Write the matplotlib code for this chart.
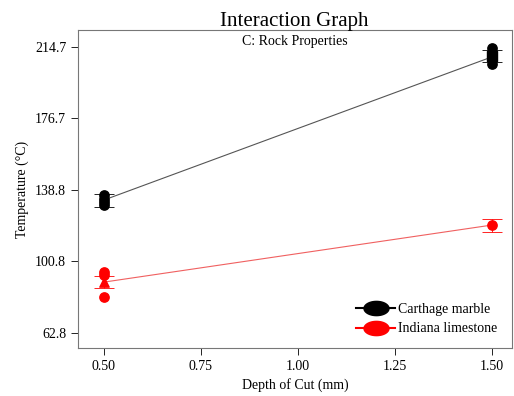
import numpy as np
import matplotlib.pyplot as plt

plt.rcParams["font.family"] = ["Liberation Serif", "DejaVu Serif"]

# Factor levels and predicted means with LSD bars
depth = [0.50, 1.50]
carthage_mean = [133.4, 209.4]
carthage_lo = [129.7, 206.7]
carthage_hi = [136.6, 213.1]
indiana_mean = [89.8, 120.1]
indiana_lo = [86.6, 116.4]
indiana_hi = [93.0, 123.3]

# Observed design points
carthage_obs_x = [0.50, 0.50, 0.50, 0.50, 1.50, 1.50]
carthage_obs_y = [136.0, 134.2, 132.6, 131.0, 214.2, 205.7]
carthage_multi_x = [1.50]
carthage_multi_y = [209.9]
indiana_obs_x = [0.50, 0.50, 0.50, 1.50]
indiana_obs_y = [95.1, 93.5, 81.8, 120.1]
indiana_multi_x = [0.50]
indiana_multi_y = [89.8]

yticks = [62.8, 100.8, 138.8, 176.7, 214.7]
xticks = [0.50, 0.75, 1.00, 1.25, 1.50]

fig = plt.figure(figsize=(5.14, 3.96), dpi=100)
ax = fig.add_axes([78 / 514, 48 / 396, 434 / 514, 318 / 396])

ax.plot(depth, carthage_mean, color="#555555", lw=0.8, zorder=2)
ax.plot(depth, indiana_mean, color="#f06060", lw=0.8, zorder=2)

for m, lo, hi, c in [(carthage_mean, carthage_lo, carthage_hi, "black"),
                     (indiana_mean, indiana_lo, indiana_hi, "red")]:
    err = [[a - b for a, b in zip(m, lo)], [b - a for a, b in zip(m, hi)]]
    ax.errorbar(depth, m, yerr=err, fmt="none", ecolor=c, elinewidth=0.6,
                capsize=7, capthick=0.6, zorder=3)

ax.scatter(carthage_obs_x, carthage_obs_y, s=45, color="black", zorder=4)
ax.scatter(carthage_multi_x, carthage_multi_y, s=45, marker="s", color="black", zorder=4)
ax.scatter(indiana_obs_x, indiana_obs_y, s=45, color="red", zorder=4)
ax.scatter(indiana_multi_x, indiana_multi_y, s=45, marker="^", color="red", zorder=4)

# legend handles: line with a wide oval marker
t = np.linspace(0, 2 * np.pi, 60)
oval = np.column_stack([np.cos(t), 0.57 * np.sin(t)])
ax.plot([], [], color="black", lw=1.5, marker=oval, ms=18,
        label="Carthage marble")
ax.plot([], [], color="red", lw=1.5, marker=oval, ms=18,
        label="Indiana limestone")
leg = ax.legend(loc="lower right", frameon=False, fontsize=10,
                handlelength=2.8, handletextpad=0.2, labelspacing=0.5,
                bbox_to_anchor=(0.995, 0.0))

ax.set_xlim(0.433, 1.552)
ax.set_ylim(54.8, 223.7)
ax.set_xticks(xticks)
ax.set_xticklabels(["0.50", "0.75", "1.00", "1.25", "1.50"])
ax.set_yticks(yticks)
ax.set_yticklabels(["62.8", "100.8", "138.8", "176.7", "214.7"])
ax.tick_params(labelsize=10, direction="out", length=5, width=0.6, colors="black")

for s in ax.spines.values():
    s.set_color("#777777")
    s.set_linewidth(0.8)

ax.set_xlabel("Depth of Cut (mm)", fontsize=10)
ax.set_ylabel("Temperature (°C)", fontsize=10)

fig.text(0.573, 0.935, "Interaction Graph", ha="center", va="baseline", fontsize=15)
fig.text(0.573, 0.886, "C: Rock Properties", ha="center", va="baseline", fontsize=10)

fig.savefig("out.png", dpi=100)
